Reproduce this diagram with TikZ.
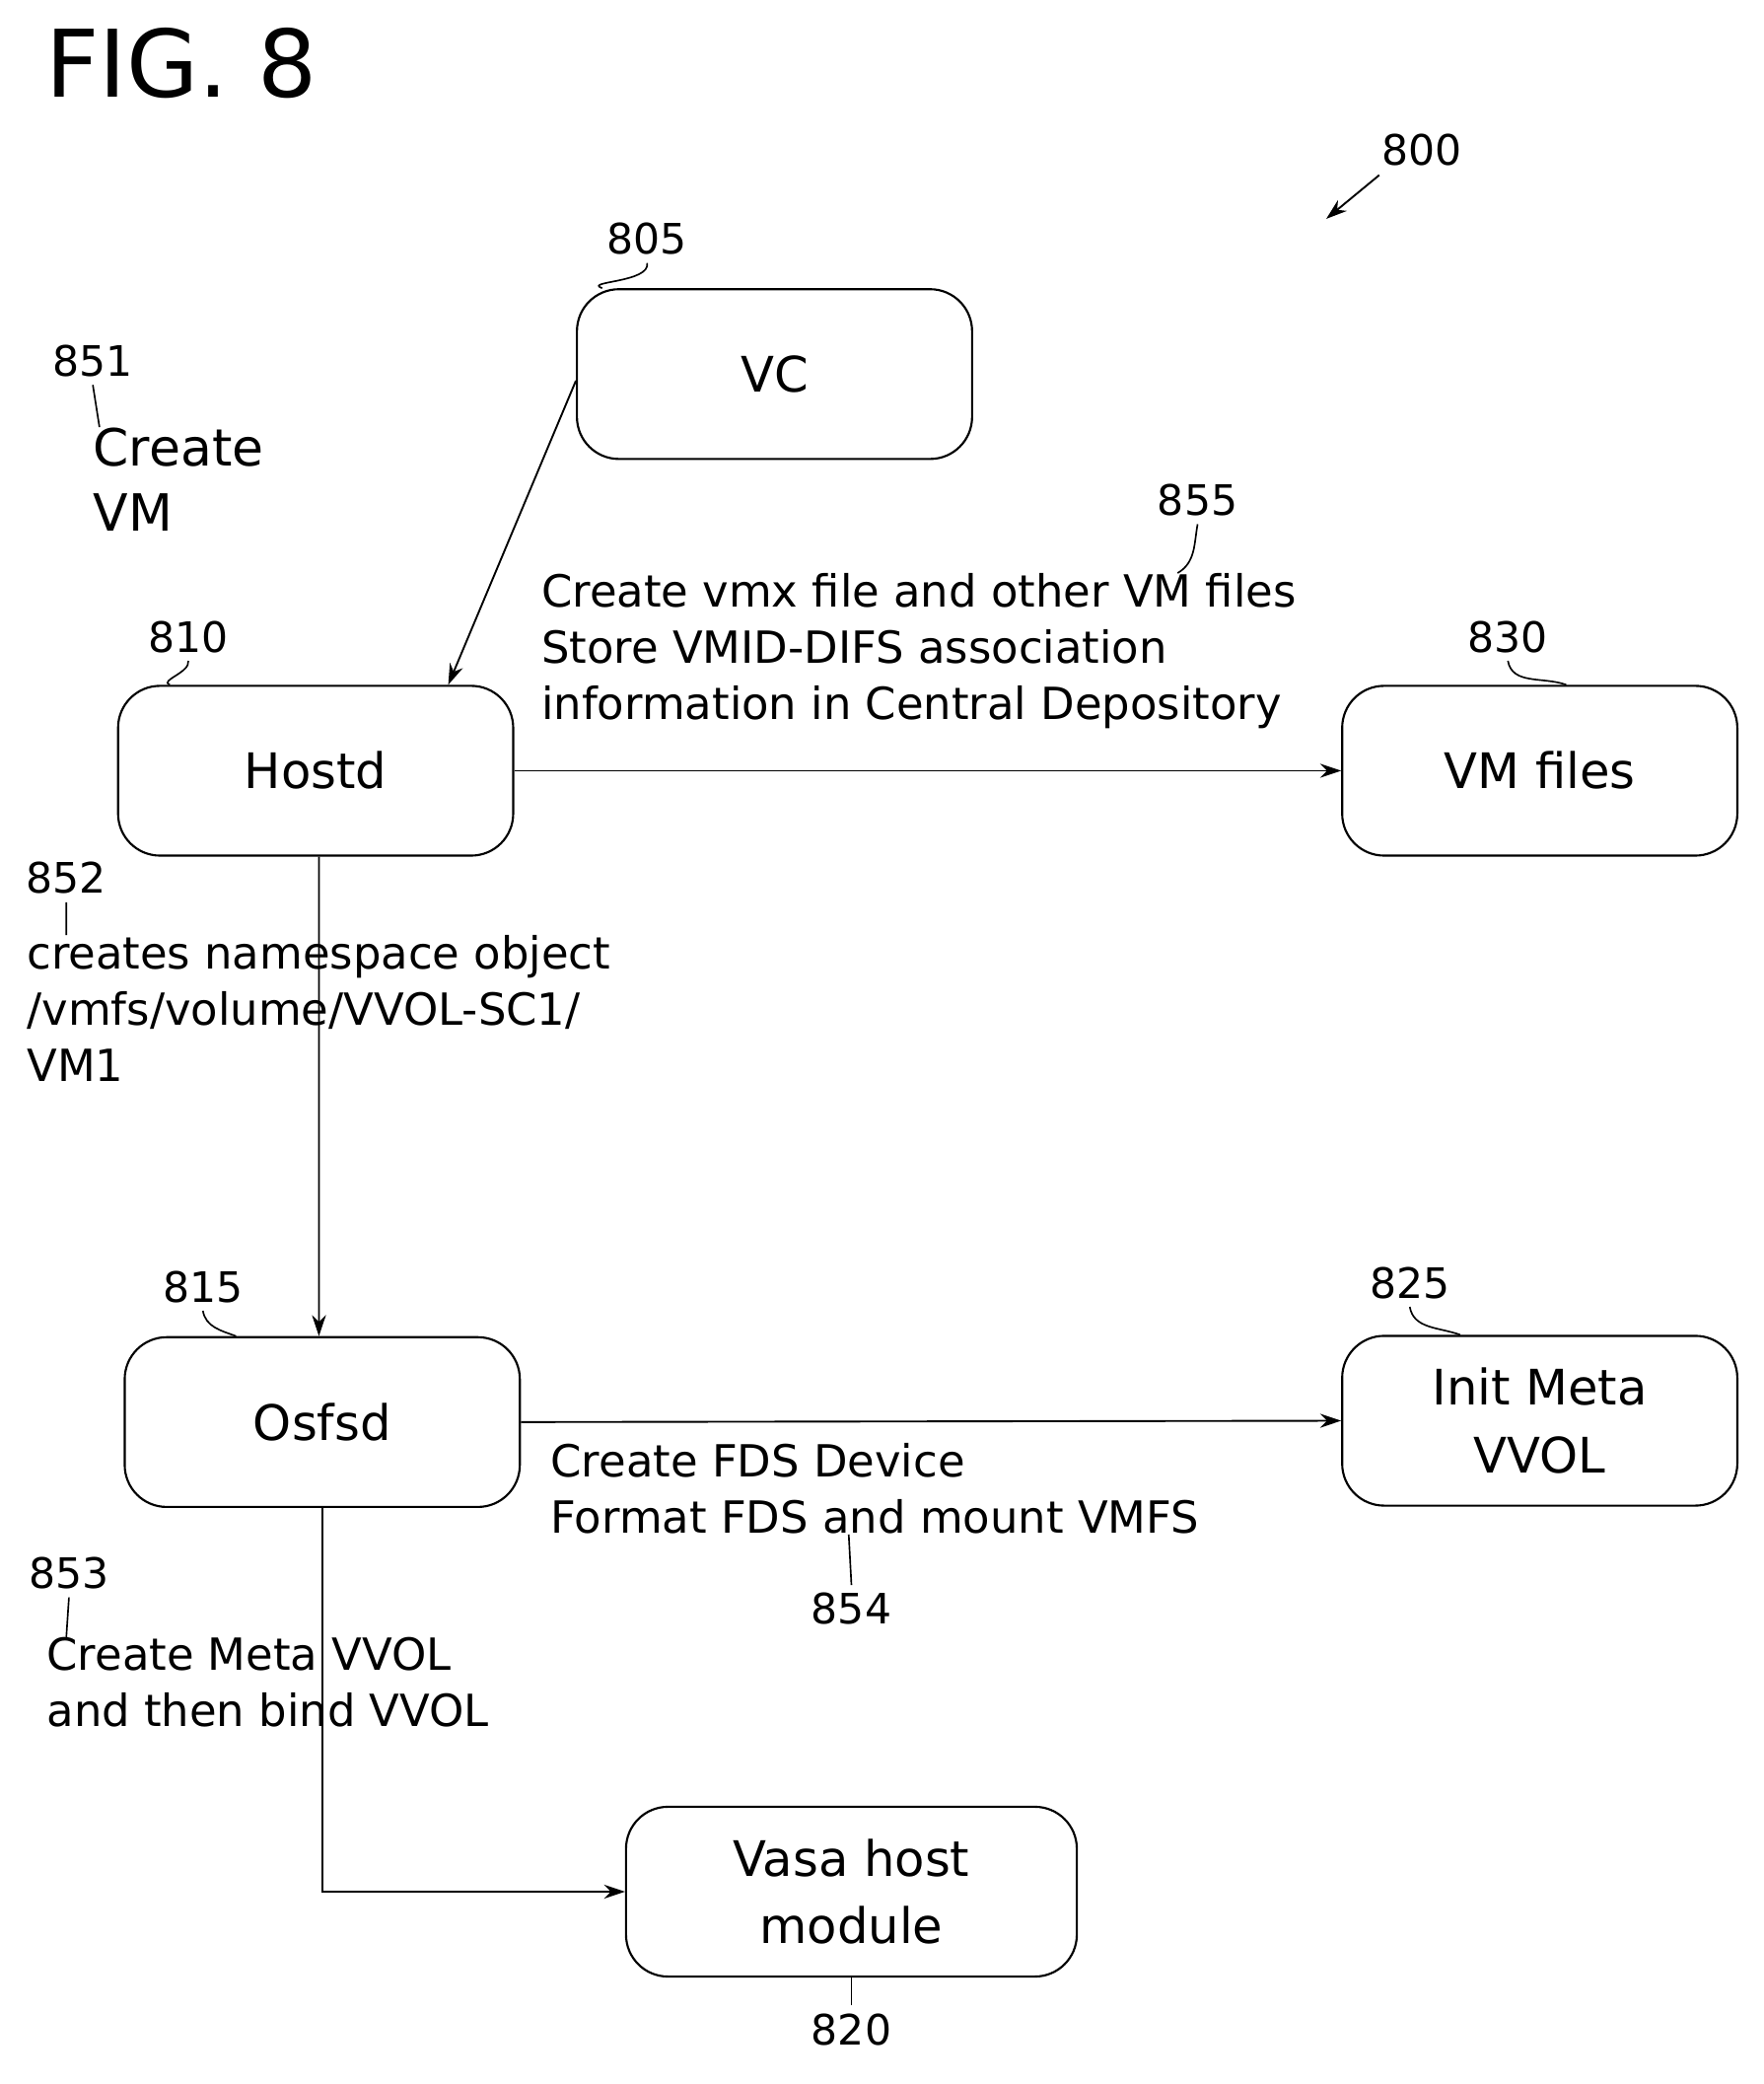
\documentclass[tikz,border=0pt]{standalone}
\usepackage{fontspec}
\setmainfont{DejaVu Sans}
\usetikzlibrary{positioning,arrows.meta}
\tikzset{
  box/.style={draw, rounded corners=18pt, line width=0.9pt, minimum width=5.96cm,
    minimum height=2.56cm, align=center, font=\fontsize{21}{29}\selectfont},
  num/.style={font=\fontsize{18}{22}\selectfont},
  note/.style={align=left, font=\fontsize{19}{24}\selectfont, inner sep=0pt},
  flow/.style={-{Stealth[length=9pt,width=6pt]}, line width=0.8pt},
  lead/.style={line width=0.7pt}
}
\begin{document}
\begin{tikzpicture}[x=0.02cm, y=-0.02cm]
  \useasboundingbox (0,0) rectangle (1330,1571);
  % title
  \node[anchor=west, font=\fontsize{40}{46}\selectfont] (fig) at (28,48) {FIG. 8};
  \node[num] (n800) at (1072,113) {800};
  \coordinate (p800) at (1000,165);
  \draw[flow] (1040,132) -- (p800);
  % boxes
  \node[box] (vc) at (584,282) {VC};
  \node[box] (hostd) at (238,581) {Hostd};
  \node[box] (vmfiles) at (1161,581) {VM files};
  \node[box] (osfsd) at (243,1072) {Osfsd};
  \node[box] (init) at (1161,1071) {Init Meta\\VVOL};
  \node[box, minimum width=6.8cm] (vasa) at (642,1426) {Vasa host\\module};
  % reference numbers
  \node[num] (n805) at (488,180) {805};
  \node[num] (n810) at (142,480) {810};
  \node[num] (n830) at (1137,480) {830};
  \node[num] (n815) at (153,970) {815};
  \node[num] (n825) at (1063,967) {825};
  \node[num] (n820) at (642,1530) {820};
  \draw[lead] (n805.south) to[out=-80,in=160] ([xshift=-2.6cm]vc.north);
  \draw[lead] (n810.south) to[out=-80,in=160] ([xshift=-2.2cm]hostd.north);
  \draw[lead] (n830.south) to[out=-80,in=160] ([xshift=0.4cm]vmfiles.north);
  \draw[lead] (n815.south) to[out=-80,in=160] ([xshift=-1.3cm]osfsd.north);
  \draw[lead] (n825.south) to[out=-80,in=160] ([xshift=-1.2cm]init.north);
  \draw[lead] (n820.north) -- (vasa.south);
  % flows
  \draw[flow] ([yshift=-0.1cm]vc.west) -- ([xshift=2cm]hostd.north);
  \draw[flow] (hostd.east) -- (vmfiles.west);
  \draw[flow] ([xshift=0.05cm]hostd.south) -- ([xshift=-0.05cm]osfsd.north);
  \draw[flow] (osfsd.east) -- (init.west);
  \coordinate (bend) at (osfsd.south |- vasa.west);
  \draw[flow] (osfsd.south) -- (bend) -- (vasa.west);
  % notes
  \node[num] (n851) at (70,272) {851};
  \node[note, anchor=north west, font=\fontsize{22}{28}\selectfont] (t851) at (70,322) {Create\\VM};
  \draw[lead] (n851.south) -- ([xshift=0.1cm]t851.north west);
  \node[num] (n855) at (903,377) {855};
  \node[note, anchor=north west] (t855) at (408,432)
    {Create vmx file and other VM files\\Store VMID-DIFS association\\information in Central Depository};
  \draw[lead] (n855.south) to[out=-100,in=30] ([xshift=9.6cm]t855.north west);
  \node[num] (n852) at (50,662) {852};
  \node[note, anchor=north west] (t852) at (20,705)
    {creates namespace object\\/vmfs/volume/VVOL-SC1/\\VM1};
  \draw[lead] (n852.south) -- ([xshift=0.6cm]t852.north west);
  \node[note, anchor=north west] (t854) at (415,1088)
    {Create FDS Device\\Format FDS and mount VMFS};
  \node[num] (n854) at (642,1213) {854};
  \draw[lead] (n854.north) -- ([xshift=4.5cm]t854.south west);
  \node[num] (n853) at (52,1186) {853};
  \node[note, anchor=north west] (t853) at (35,1234)
    {Create Meta VVOL\\and then bind VVOL};
  \draw[lead] (n853.south) -- ([xshift=0.3cm]t853.north west);
\end{tikzpicture}
\end{document}
